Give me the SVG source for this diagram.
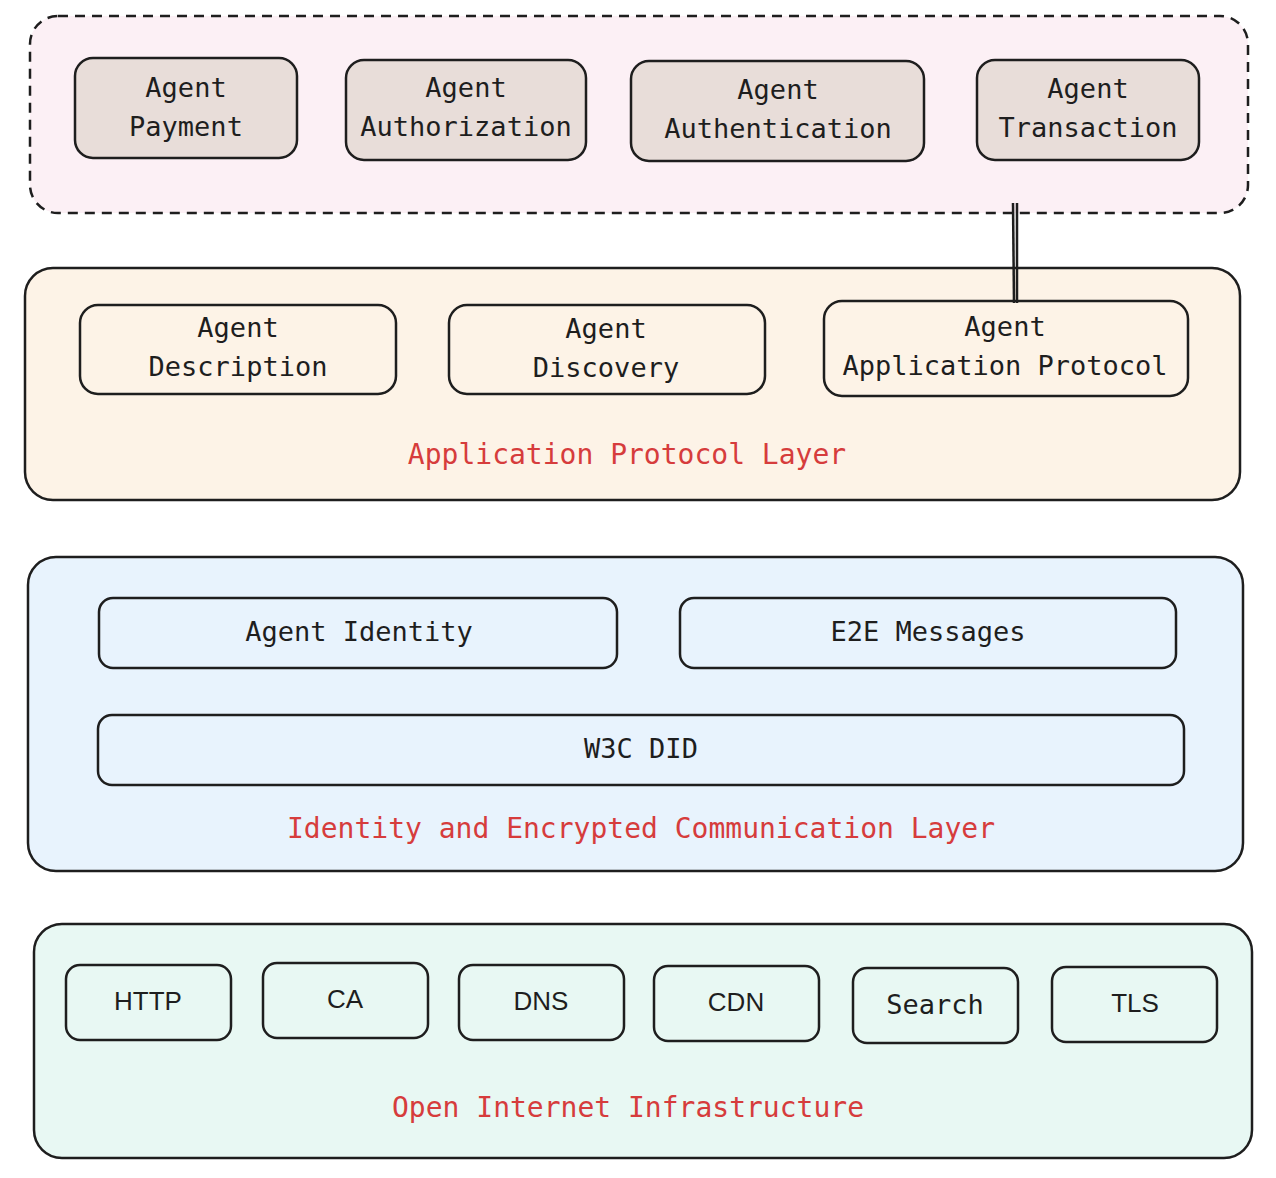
<svg xmlns="http://www.w3.org/2000/svg" width="1276" height="1178" viewBox="0 0 1276 1178">
<style>
.b{stroke:#1e1e1e;stroke-width:2.5}
.t{font-family:"DejaVu Sans Mono","Liberation Mono",monospace;font-size:27px;fill:#1e1e1e;text-anchor:middle}
.s{font-family:"Liberation Sans",sans-serif;font-size:26px;fill:#1e1e1e;text-anchor:middle}
.r{font-family:"DejaVu Sans Mono","Liberation Mono",monospace;font-size:28px;fill:#d63c3c;text-anchor:middle}
</style>
<rect width="1276" height="1178" fill="#fff"/>
<g id="layer-top"><rect class="b" x="30" y="16" width="1218" height="197" rx="28" fill="#fcf0f5" stroke-dasharray="10 7"/></g>
<g id="payment"><rect class="b" x="75" y="58" width="222" height="100" rx="18" fill="#e8ddd9"/><text class="t" x="186" y="97">Agent</text><text class="t" x="186" y="136">Payment</text></g>
<g id="authorization"><rect class="b" x="346" y="60" width="240" height="100" rx="18" fill="#e8ddd9"/><text class="t" x="466" y="97">Agent</text><text class="t" x="466" y="136">Authorization</text></g>
<g id="authentication"><rect class="b" x="631" y="61" width="293" height="100" rx="18" fill="#e8ddd9"/><text class="t" x="778" y="99">Agent</text><text class="t" x="778" y="138">Authentication</text></g>
<g id="transaction"><rect class="b" x="977" y="60" width="222" height="100" rx="18" fill="#e8ddd9"/><text class="t" x="1088" y="98">Agent</text><text class="t" x="1088" y="137">Transaction</text></g>
<g id="layer-app"><rect class="b" x="25" y="268" width="1215" height="232" rx="28" fill="#fdf3e7"/><text class="r" x="627" y="464">Application Protocol Layer</text></g>
<g id="description"><rect class="b" x="80" y="305" width="316" height="89" rx="18" fill="#fdf3e7"/><text class="t" x="238" y="337">Agent</text><text class="t" x="238" y="376">Description</text></g>
<g id="discovery"><rect class="b" x="449" y="305" width="316" height="89" rx="18" fill="#fdf3e7"/><text class="t" x="606" y="338">Agent</text><text class="t" x="606" y="377">Discovery</text></g>
<g id="aap"><rect class="b" x="824" y="301" width="364" height="95" rx="18" fill="#fdf3e7"/><text class="t" x="1005" y="336">Agent</text><text class="t" x="1005" y="375">Application Protocol</text></g>
<g id="connectors"><line class="b" x1="1013" y1="203" x2="1014" y2="303"/><line class="b" x1="1017" y1="203" x2="1017" y2="303"/></g>
<g id="layer-id"><rect class="b" x="28" y="557" width="1215" height="314" rx="28" fill="#e8f3fd"/><text class="r" x="641" y="838">Identity and Encrypted Communication Layer</text></g>
<g id="identity"><rect class="b" x="99" y="598" width="518" height="70" rx="14" fill="#e8f3fd"/><text class="t" x="359" y="641">Agent Identity</text></g>
<g id="e2e"><rect class="b" x="680" y="598" width="496" height="70" rx="14" fill="#e8f3fd"/><text class="t" x="928" y="641">E2E Messages</text></g>
<g id="did"><rect class="b" x="98" y="715" width="1086" height="70" rx="14" fill="#e8f3fd"/><text class="t" x="641" y="758">W3C DID</text></g>
<g id="layer-net"><rect class="b" x="34" y="924" width="1218" height="234" rx="28" fill="#e8f8f3"/><text class="r" x="628" y="1117">Open Internet Infrastructure</text></g>
<g id="http"><rect class="b" x="66" y="965" width="165" height="75" rx="14" fill="#e8f8f3"/><text class="s" x="148" y="1010">HTTP</text></g>
<g id="ca"><rect class="b" x="263" y="963" width="165" height="75" rx="14" fill="#e8f8f3"/><text class="s" x="345" y="1008">CA</text></g>
<g id="dns"><rect class="b" x="459" y="965" width="165" height="75" rx="14" fill="#e8f8f3"/><text class="s" x="541" y="1010">DNS</text></g>
<g id="cdn"><rect class="b" x="654" y="966" width="165" height="75" rx="14" fill="#e8f8f3"/><text class="s" x="736" y="1011">CDN</text></g>
<g id="search"><rect class="b" x="853" y="968" width="165" height="75" rx="14" fill="#e8f8f3"/><text class="t" x="935" y="1014">Search</text></g>
<g id="tls"><rect class="b" x="1052" y="967" width="165" height="75" rx="14" fill="#e8f8f3"/><text class="s" x="1135" y="1012">TLS</text></g>
</svg>
